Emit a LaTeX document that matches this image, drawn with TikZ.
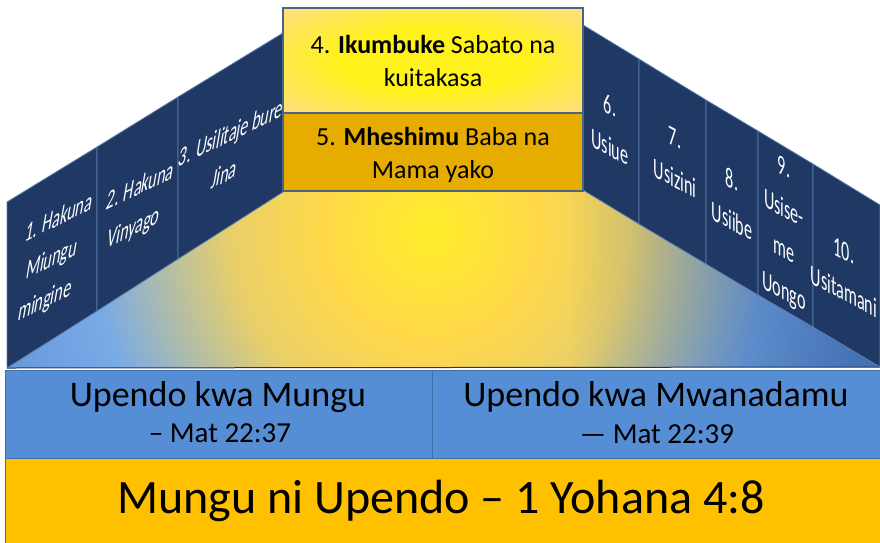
\documentclass[tikz,border=0pt]{standalone}
\usepackage{fontspec}
\setmainfont{Carlito}
\usetikzlibrary{fadings}

\definecolor{wallnavy}{HTML}{1F3864}
\definecolor{wallline}{HTML}{5B7DB1}
\definecolor{bandblue}{HTML}{558ED5}
\definecolor{bandline}{HTML}{3F6FA8}
\definecolor{bandgold}{HTML}{FFC000}
\definecolor{boxgold}{HTML}{E6AC00}
\definecolor{boxline}{HTML}{4A6483}
\definecolor{boxyellow}{HTML}{FFF21A}
\definecolor{boxpale}{HTML}{FFDF80}
\definecolor{glowyellow}{HTML}{FFEE2A}
\definecolor{glowgold}{HTML}{FFD84A}
\definecolor{glowsand}{HTML}{E8CF6A}
\definecolor{floorblue}{HTML}{78AAE8}
\definecolor{flooredge}{HTML}{5F90D0}
\definecolor{floordark}{HTML}{2B5597}

\pgfdeclareradialshading{floorglow}{\pgfpoint{0bp}{0bp}}{color(0bp)=(glowyellow); color(5.5bp)=(glowgold); color(10bp)=(glowsand); color(17bp)=(floorblue); color(25bp)=(flooredge); color(50bp)=(flooredge)}
\pgfdeclareradialshading{lightbox}{\pgfpoint{0bp}{0bp}}{color(0bp)=(boxyellow); color(15bp)=(boxyellow); color(35bp)=(boxpale); color(50bp)=(boxpale)}
\tikzfading[name=darkright, left color=transparent!100, right color=transparent!40]

\begin{document}
\begin{tikzpicture}[x=1pt,y=-1pt,
    wall/.style={fill=wallnavy, draw=wallline, line width=0.8pt},
    walltext/.style={text=white, align=center, inner sep=0pt, font=\fontsize{17}{25}\selectfont},
    leftwall/.style={walltext, cm={0.95,0.46,0.28,1.65,(0,0)}},
    rightwall/.style={walltext, cm={0.95,-0.5,0,1.65,(0,0)}},
    box/.style={draw=boxline, line width=1.2pt},
    boxtext/.style={align=center, inner sep=0pt, font=\fontsize{26}{33}\selectfont},
    band/.style={fill=bandblue, draw=bandline, line width=1pt}]
    \useasboundingbox (0,0) rectangle (880,542);

    % floor
    \begin{scope}
        \clip (7,368) -- (283,192) -- (583,190) -- (880,367) -- cycle;
        \shade[shading=floorglow] (430,230) circle (500pt);
        \fill[floordark, path fading=darkright, fit fading=true] (570,190) rectangle (880,368);
    \end{scope}
    \draw[wallnavy, line width=1pt] (7,368) -- (880,367);

    % left walls
    \draw[wall] (7,368) -- (7,202) -- (97,147) -- (97,311) -- cycle;
    \draw[wall] (97,311) -- (97,147) -- (178,97) -- (178,259) -- cycle;
    \draw[wall] (178,259) -- (178,97) -- (283,33) -- (283,192) -- cycle;

    % right walls
    \draw[wall] (583,190) -- (583,25) -- (639,59) -- (639,224) -- cycle;
    \draw[wall] (639,224) -- (639,59) -- (706,100) -- (706,264) -- cycle;
    \draw[wall] (706,264) -- (706,100) -- (758,131) -- (758,295) -- cycle;
    \draw[wall] (758,295) -- (758,131) -- (813,164) -- (813,327) -- cycle;
    \draw[wall] (813,327) -- (813,164) -- (880,205) -- (880,367) -- cycle;

    \node[leftwall] (cmd1) at (52,260) {1. Hakuna\\Miungu\\mingine};
    \node[leftwall] (cmd2) at (137,208) {2. Hakuna\\Vinyago};
    \node[leftwall] (cmd3) at (228,153) {3. Usilitaje bure\\Jina};
    \node[rightwall] (cmd6) at (610,126) {6.\\Usiue};
    \node[rightwall] (cmd7) at (675,158) {7.\\Usizini};
    \node[rightwall] (cmd8) at (732,200) {8.\\Usiibe};
    \node[rightwall] (cmd9) at (784,231) {9.\\Usise-\\me\\Uongo};
    \node[rightwall] (cmd10) at (844,271) {10.\\Usitamani};

    % centre boxes
    \shadedraw[box, shading=lightbox] (283,8) rectangle (583,113);
    \filldraw[box, fill=boxgold] (283,113) rectangle (583,191);
    \node[boxtext] (sabbath) at (433,61) {4. \textbf{Ikumbuke} Sabato na\\kuitakasa};
    \node[boxtext] (parents) at (433,155) {5. \textbf{Mheshimu} Baba na\\Mama yako};

    % bands
    \filldraw[band] (5,370) rectangle (432,458);
    \filldraw[band] (432,370) rectangle (880,458);
    \filldraw[fill=bandgold, draw=bandline, line width=1pt] (5,458) rectangle (880,545);

    \node[font=\fontsize{36}{40}\selectfont] (lovegod) at (218,397) {Upendo kwa Mungu};
    \node[font=\fontsize{29}{32}\selectfont] (lovegodref) at (220,433) {– Mat 22:37};
    \node[font=\fontsize{36}{40}\selectfont] (loveman) at (656,397) {Upendo kwa Mwanadamu};
    \node[font=\fontsize{29}{32}\selectfont] (lovemanref) at (657,434) {— Mat 22:39};
    \node[font=\fontsize{48}{52}\selectfont] (godislove) at (441,501) {Mungu ni Upendo – 1 Yohana 4:8};
\end{tikzpicture}
\end{document}
